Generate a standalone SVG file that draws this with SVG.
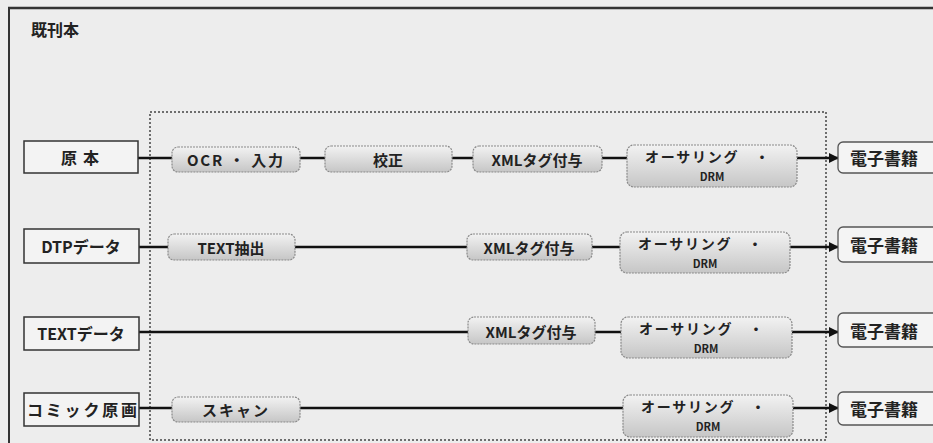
<svg xmlns="http://www.w3.org/2000/svg" width="933" height="443" viewBox="0 0 933 443">
  <defs>
    <linearGradient id="pg" x1="0" y1="0" x2="0" y2="1">
      <stop offset="0" stop-color="#f2f2f2"/>
      <stop offset="1" stop-color="#c6c6c6"/>
    </linearGradient>
    <marker id="ah" viewBox="0 0 10 10" refX="9" refY="5" markerWidth="4" markerHeight="4" markerUnits="strokeWidth" orient="auto">
      <path d="M0,0 L10,5 L0,10 z" fill="#111"/>
    </marker>
  </defs>
  <style>
    text { font-family: "Noto Sans CJK JP", "Liberation Sans", sans-serif; font-weight: bold; fill: #222; }
    .src rect { fill: #f3f3f3; stroke: #333; stroke-width: 1.5; }
    .proc rect { fill: url(#pg); stroke: #8a8a8a; stroke-width: 1.2; stroke-dasharray: 2 1; }
    .out rect { fill: #f4f4f4; stroke: #555; stroke-width: 1.3; }
    .lbl { font-size: 15px; text-anchor: middle; dominant-baseline: central; }
    .big { font-size: 16px; text-anchor: middle; dominant-baseline: central; }
    .eb { font-size: 17px; text-anchor: start; dominant-baseline: central; }
    .au { font-size: 14px; text-anchor: start; dominant-baseline: central; }
    .drm { font-size: 11px; text-anchor: middle; dominant-baseline: central; }
    .conn line { stroke: #111; stroke-width: 2.5; }
    .conn line.arr { marker-end: url(#ah); }
  </style>

  <rect x="0" y="0" width="933" height="443" fill="#ededed"/>
  <g id="frame">
    <line x1="8" y1="8" x2="933" y2="8" stroke="#333" stroke-width="2.5"/>
    <line x1="9" y1="8" x2="9" y2="443" stroke="#333" stroke-width="2"/>
  </g>
  <text id="title" x="31" y="36" font-size="16">既刊本</text>

  <rect id="scope" x="150" y="112" width="676" height="328" fill="none" stroke="#444" stroke-width="1.5" stroke-dasharray="2 2"/>

  <g class="conn" id="connectors">
    <line x1="138" y1="158" x2="172" y2="158"/>
    <line x1="300" y1="158" x2="325" y2="158"/>
    <line x1="452" y1="158" x2="473" y2="158"/>
    <line x1="602" y1="158" x2="627" y2="158"/>
    <line class="arr" x1="797" y1="158" x2="838" y2="158"/>

    <line x1="139" y1="247" x2="168" y2="247"/>
    <line x1="295" y1="247" x2="467" y2="247"/>
    <line x1="592" y1="247" x2="620" y2="247"/>
    <line class="arr" x1="790" y1="247" x2="838" y2="247"/>

    <line x1="139" y1="332" x2="468" y2="332"/>
    <line x1="595" y1="332" x2="621" y2="332"/>
    <line class="arr" x1="792" y1="332" x2="838" y2="332"/>

    <line x1="139" y1="408" x2="172" y2="408"/>
    <line x1="300" y1="408" x2="623" y2="408"/>
    <line class="arr" x1="793" y1="408" x2="838" y2="408"/>
  </g>

  <!-- Row 1 -->
  <g id="src1" class="src"><rect x="24" y="141" width="114" height="32"/><text class="big" x="83" y="157" letter-spacing="6">原本</text></g>
  <g id="ocr1" class="proc"><rect x="172" y="147" width="128" height="25" rx="6"/><text class="lbl" x="235" y="159" textLength="96" lengthAdjust="spacing">OCR ・ 入力</text></g>
  <g id="kousei1" class="proc"><rect x="325" y="146" width="127" height="26" rx="6"/><text class="lbl" x="388" y="159">校正</text></g>
  <g id="xml1" class="proc"><rect x="473" y="146" width="129" height="26" rx="6"/><text class="lbl" x="537" y="159">XMLタグ付与</text></g>
  <g id="auth1" class="proc"><rect x="627" y="145" width="170" height="42" rx="7"/><text class="au" x="645" y="156" textLength="124" lengthAdjust="spacing">オーサリング　・</text><text class="drm" x="712" y="176">DRM</text></g>
  <g id="ebook1" class="out"><rect x="838" y="142" width="110" height="31" rx="5"/><text class="eb" x="850" y="157">電子書籍</text></g>

  <!-- Row 2 -->
  <g id="src2" class="src"><rect x="24" y="229" width="115" height="34"/><text class="big" x="81" y="246">DTPデータ</text></g>
  <g id="text2" class="proc"><rect x="168" y="234" width="127" height="26" rx="6"/><text class="lbl" x="231" y="247">TEXT抽出</text></g>
  <g id="xml2" class="proc"><rect x="467" y="234" width="125" height="26" rx="6"/><text class="lbl" x="529" y="247">XMLタグ付与</text></g>
  <g id="auth2" class="proc"><rect x="620" y="232" width="170" height="41" rx="7"/><text class="au" x="638" y="243" textLength="124" lengthAdjust="spacing">オーサリング　・</text><text class="drm" x="705" y="263">DRM</text></g>
  <g id="ebook2" class="out"><rect x="838" y="227" width="110" height="35" rx="5"/><text class="eb" x="850" y="244">電子書籍</text></g>

  <!-- Row 3 -->
  <g id="src3" class="src"><rect x="24" y="317" width="115" height="33"/><text class="big" x="81" y="333">TEXTデータ</text></g>
  <g id="xml3" class="proc"><rect x="468" y="317" width="127" height="27" rx="6"/><text class="lbl" x="531" y="331">XMLタグ付与</text></g>
  <g id="auth3" class="proc"><rect x="621" y="317" width="171" height="41" rx="7"/><text class="au" x="639" y="328" textLength="124" lengthAdjust="spacing">オーサリング　・</text><text class="drm" x="706" y="348">DRM</text></g>
  <g id="ebook3" class="out"><rect x="838" y="313" width="110" height="34" rx="5"/><text class="eb" x="850" y="330">電子書籍</text></g>

  <!-- Row 4 -->
  <g id="src4" class="src"><rect x="24" y="393" width="115" height="33"/><text class="big" x="82" y="409" textLength="110" lengthAdjust="spacing">コミック原画</text></g>
  <g id="scan4" class="proc"><rect x="172" y="397" width="128" height="25" rx="6"/><text class="lbl" x="236" y="409" letter-spacing="2">スキャン</text></g>
  <g id="auth4" class="proc"><rect x="623" y="395" width="170" height="42" rx="7"/><text class="au" x="641" y="406" textLength="124" lengthAdjust="spacing">オーサリング　・</text><text class="drm" x="708" y="426">DRM</text></g>
  <g id="ebook4" class="out"><rect x="838" y="392" width="110" height="33" rx="5"/><text class="eb" x="850" y="408">電子書籍</text></g>
</svg>
